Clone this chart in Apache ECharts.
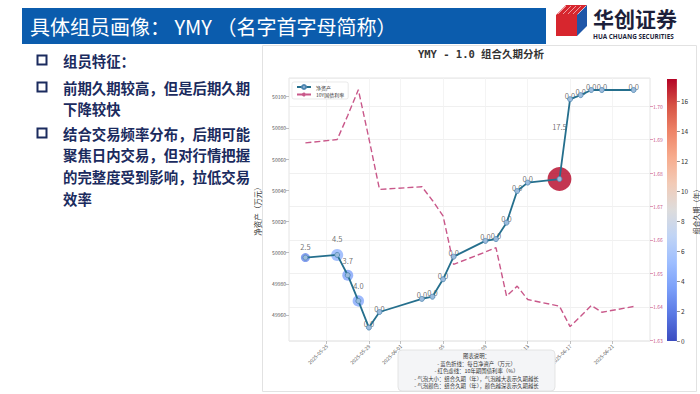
<!DOCTYPE html>
<html><head><meta charset="utf-8">
<script src="https://cdn.jsdelivr.net/npm/echarts@6/dist/echarts.min.js"></script>
<style>html,body{margin:0;padding:0;background:#fff;}#c{width:700px;height:394px;}</style>
</head><body><div id="c"></div>
<script>
// ---- data ----
const dates = ['2025-05-23','2025-05-26','2025-05-27','2025-05-28','2025-05-29','2025-05-30',
  '2025-06-03','2025-06-04','2025-06-05','2025-06-06','2025-06-09','2025-06-10','2025-06-11',
  '2025-06-12','2025-06-13','2025-06-16','2025-06-17','2025-06-18','2025-06-19','2025-06-20','2025-06-23'];
const netAssets = [49996.8,49998.5,49985.5,49969.0,49951.9,49961.9,49970.3,49971.7,49982.9,49997.4,
  50007.5,50008.7,50019.2,50039.5,50044.9,50047.2,50098.4,50101.0,50104.3,50104.3,50104.3];
const bondYield = [1.6890,1.6900,1.6972,1.7049,1.6903,1.6751,1.6759,1.6718,1.6672,1.6527,
  1.6564,1.6577,1.6432,1.6462,1.6422,1.6402,1.6341,1.6372,1.6404,1.6384,1.6401];
const duration = [2.5,4.5,3.7,4.0,0,0,0,0,0,0,0,0,0,0,0,17.5,0,0,0,0,0];
const xTickLabels = ['2025-05-25','2025-05-29','2025-06-01','2025-06-05','2025-06-09','2025-06-13','2025-06-17','2025-06-21'];
const seriesNames = ['净资产','10Y国债利率'];
const titleText = 'YMY - 1.0 组合久期分析';
const headerText = '具体组员画像： YMY （名字首字母简称）';
const bulletLines = [
  ['组员特征：'],
  ['前期久期较高，但是后期久期','下降较快'],
  ['结合交易频率分布，后期可能','聚焦日内交易，但对行情把握','的完整度受到影响，拉低交易','效率']
];
const noteLines = ['图表说明：','- 蓝色折线：每日净资产（万元）','- 红色虚线：10年期国债利率（%）',
  '- 气泡大小：组合久期（年），气泡越大表示久期越长','- 气泡颜色：组合久期（年），颜色越深表示久期越长'];

// ---- styling / layout ----
const coolwarm = ['#3b4cc0','#5977e3','#7b9ff9','#9ebeff','#c0d4f5','#dddcdc','#f2cbb7','#f7ac8e','#ee8468','#d65244','#b40426'];
const CJK = '"Noto Sans CJK SC", sans-serif';
const DAY = 86400000;
const ts = s => Date.UTC(+s.slice(0,4), +s.slice(5,7) - 1, +s.slice(8,10));
const pad = n => (n < 10 ? '0' : '') + n;
const fmtDate = v => { const d = new Date(v); return d.getUTCFullYear() + '-' + pad(d.getUTCMonth() + 1) + '-' + pad(d.getUTCDate()); };
const xs = dates.map(ts);
const xMin = xs[0] - 1.55 * DAY;
const xMax = xs[xs.length - 1] + 1.55 * DAY;
const tickTs = xTickLabels.map(ts);
const durMax = Math.max(...duration);
const pink = '#c9588a';

const chart = echarts.init(document.getElementById('c'), null, {renderer: 'svg'});

const bubbleData = xs.map((x, i) => ({
  value: [x, netAssets[i], duration[i]],
  label: {offset: [0, -(2.8 * duration[i] + 4)]}
}));

const graphics = [];
graphics.push({type:'rect', z:-10, shape:{x:262.5,y:45.5,width:434,height:346}, style:{fill:'#fff',stroke:'#e2e2e2',lineWidth:1}});
graphics.push({type:'rect', shape:{x:22,y:8,width:524,height:36}, style:{fill:'#0b5cad'}});
graphics.push({type:'text', x:30, y:26, style:{text:headerText, fill:'#fff', font:'20px ' + CJK, verticalAlign:'middle'}});
// logo
graphics.push({type:'polygon', shape:{points:[[556,15],[566,5],[587,5],[577,15]]}, style:{fill:'#d7262e'}});
graphics.push({type:'rect', shape:{x:556,y:15,width:21,height:21}, style:{fill:'#d7262e'}});
graphics.push({type:'polygon', shape:{points:[[577,15],[587,5],[587,26],[577,36]]}, style:{fill:'#1f56a8'}});
for (let k = 0; k < 5; k++) {
  graphics.push({type:'line', shape:{x1:558 + k*5, y1:14, x2:566 + k*5, y2:6}, style:{stroke:'#fff', lineWidth:0.8, opacity:0.7}});
}
graphics.push({type:'text', x:593, y:18, style:{text:'华创证券', fill:'#1c1f3a', font:'bold 21px ' + CJK, verticalAlign:'middle'}});
graphics.push({type:'text', x:593, y:36, style:{text:'HUA CHUANG SECURITIES', fill:'#1c1f3a', font:'bold 6.4px "Open Sans", sans-serif', verticalAlign:'middle'}});
// bullets
const bulletY = [60, 87, 133];
const lineGap = 21.8;
bulletLines.forEach((lines, b) => {
  graphics.push({type:'rect', shape:{x:37.5,y:bulletY[b]-4.5,width:9,height:9}, style:{fill:'none',stroke:'#1b2b5e',lineWidth:2}});
  lines.forEach((t, j) => {
    graphics.push({type:'text', x:63, y:bulletY[b] + j*lineGap, style:{text:t, fill:'#1b2b5e', font:'bold 14.4px ' + CJK, verticalAlign:'middle'}});
  });
});
// note box
graphics.push({type:'rect', z:100, shape:{x:398,y:350,width:157,height:41,r:4}, style:{fill:'#f4f5f7',stroke:'#dedede',lineWidth:0.8}});
noteLines.forEach((t, j) => {
  graphics.push({type:'text', z:101, x:476.5, y:356 + j*7.6, style:{text:t, fill:'#333', font:'5.4px ' + CJK, align:'center', verticalAlign:'middle'}});
});

const option = {
  animation: false,
  textStyle: {fontFamily: CJK},
  title: {text: titleText, left: 476, top: 44, textAlign: 'center',
    textStyle: {fontSize: 10.5, fontWeight: 'bold', color: '#333', fontFamily: '"DejaVu Sans Mono", "Noto Sans CJK SC", monospace'}},
  legend: {data: seriesNames, left: 292, top: 82, orient: 'vertical', itemWidth: 14, itemHeight: 5, itemGap: 2,
    textStyle: {fontSize: 5, color: '#333'}, borderColor: '#dcdcdc', borderWidth: 0.6, borderRadius: 2,
    padding: [2, 4], backgroundColor: '#fff'},
  grid: [
    {left: 289, top: 78, width: 361, height: 263, show: true, borderColor: '#e4e4e4', borderWidth: 1, backgroundColor: 'transparent'},
    {left: 667, top: 79, width: 10, height: 262}
  ],
  visualMap: {type: 'continuous', show: false, min: 0, max: durMax, dimension: 2, seriesIndex: 2, inRange: {color: coolwarm}},
  xAxis: [
    {type: 'value', gridIndex: 0, min: xMin, max: xMax, scale: true,
      axisLine: {show: false},
      axisTick: {show: true, customValues: tickTs, length: 3, lineStyle: {color: '#999', width: 0.6}},
      axisLabel: {customValues: tickTs, rotate: 45, fontSize: 5, color: '#555', margin: 4, formatter: fmtDate},
      splitLine: {show: true, lineStyle: {color: '#f1f1f1', width: 0.8}}},
    {type: 'category', gridIndex: 1, data: [''], show: false}
  ],
  yAxis: [
    {type: 'value', gridIndex: 0, position: 'left', min: 49943.3, max: 50112, minInterval: 20, maxInterval: 20,
      axisLine: {show: false},
      axisTick: {show: true, length: 3, lineStyle: {color: '#999', width: 0.6}},
      axisLabel: {fontSize: 5, color: '#555', margin: 3, showMinLabel: false, showMaxLabel: false,
        formatter: v => String(Math.round(v))},
      splitLine: {show: false},
      name: '净资产（万元）', nameLocation: 'middle', nameGap: 19, nameRotate: 90,
      nameTextStyle: {fontSize: 7.5, color: '#333'}},
    {type: 'value', gridIndex: 0, position: 'right', min: 1.6298, max: 1.7084, minInterval: 0.01, maxInterval: 0.01,
      axisLine: {show: false},
      axisTick: {show: true, length: 3, lineStyle: {color: pink, width: 0.6}},
      axisLabel: {fontSize: 5, color: pink, margin: 3, showMinLabel: false, showMaxLabel: false,
        formatter: v => v.toFixed(2)},
      splitLine: {show: true, lineStyle: {color: '#ececec', width: 0.8}}},
    {type: 'value', gridIndex: 1, position: 'right', min: 0, max: durMax, interval: 2,
      axisLine: {show: false},
      axisTick: {show: true, length: 3, lineStyle: {color: '#444', width: 0.6}},
      axisLabel: {fontSize: 6.5, color: '#333', margin: 4, showMaxLabel: false},
      splitLine: {show: false},
      name: '组合久期（年）', nameLocation: 'middle', nameGap: 15, nameRotate: 90,
      nameTextStyle: {fontSize: 7, color: '#333'}}
  ],
  series: [
    {name: seriesNames[0], type: 'line', xAxisIndex: 0, yAxisIndex: 0, z: 4,
      data: xs.map((x, i) => [x, netAssets[i]]),
      symbol: 'circle', symbolSize: 5,
      itemStyle: {color: '#9cbcdc', borderColor: '#4f86b0', borderWidth: 0.8},
      lineStyle: {color: '#256f8d', width: 1.8}},
    {name: seriesNames[1], type: 'line', xAxisIndex: 0, yAxisIndex: 1, z: 3,
      data: xs.map((x, i) => [x, bondYield[i]]),
      symbol: 'none', itemStyle: {color: pink},
      lineStyle: {color: pink, width: 1.4, type: [6, 3]}},
    {name: '组合久期', type: 'scatter', xAxisIndex: 0, yAxisIndex: 0, z: 2,
      data: bubbleData,
      symbolSize: v => v[2] > 0 ? 5.7 * Math.sqrt(v[2]) : 0,
      itemStyle: {opacity: 0.8},
      label: {show: true, position: 'inside', fontSize: 7.5, color: '#505050',
        textBorderWidth: 0, textBorderColor: 'transparent',
        formatter: p => p.value[2].toFixed(1)},
      emphasis: {disabled: true}},
    {name: 'colorbar', type: 'bar', xAxisIndex: 1, yAxisIndex: 2, silent: true, barWidth: '100%',
      data: [durMax],
      itemStyle: {color: new echarts.graphic.LinearGradient(0, 1, 0, 0,
        coolwarm.map((c, i) => ({offset: i / (coolwarm.length - 1), color: c})))}}
  ],
  graphic: graphics
};
chart.setOption(option);
</script></body></html>
